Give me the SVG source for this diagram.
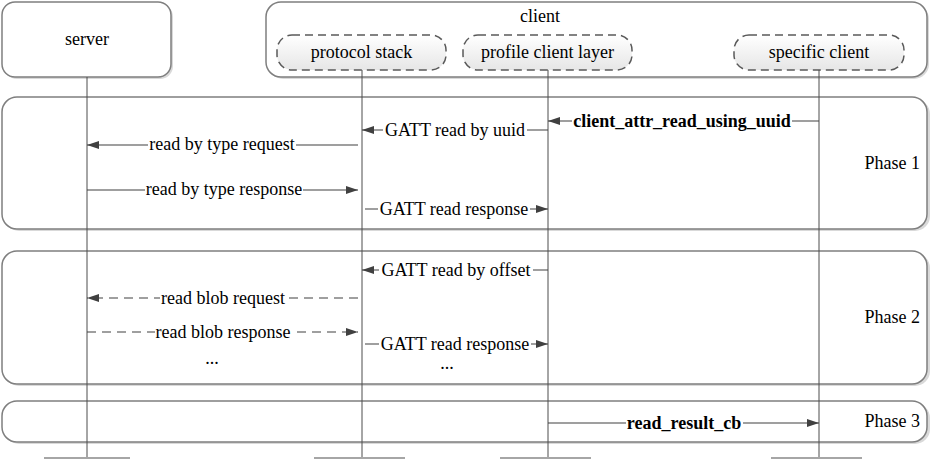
<svg xmlns="http://www.w3.org/2000/svg" width="934" height="459" viewBox="0 0 934 459">
<style>
text{font-family:"Liberation Serif","Times New Roman",serif;font-size:18px;fill:#000}
.c{text-anchor:middle}
.r{text-anchor:end}
.b{font-weight:bold}
.bg{fill:#fff}
.box{fill:#fff;stroke:#7f7f7f;stroke-width:1.5}
.sh{fill:#d9d9d9}
.dbox{fill:url(#g);stroke:#595959;stroke-width:1.5;stroke-dasharray:8 5}
.life{stroke:#4d4d4d;stroke-width:1;fill:none}
.msg{stroke:#404040;stroke-width:1.2;fill:none;marker-end:url(#ah)}
.dash{stroke-dasharray:9 6}
.bar{fill:#a6a6a6}
</style>
<defs>
<linearGradient id="g" x1="0" y1="0" x2="0" y2="1">
<stop offset="0" stop-color="#ffffff"/>
<stop offset="1" stop-color="#e6e6e6"/>
</linearGradient>
<marker id="ah" markerWidth="12" markerHeight="8" refX="12" refY="4" orient="auto" markerUnits="userSpaceOnUse">
<path d="M0,0 L12,4 L0,8 Z" fill="#404040"/>
</marker>
</defs>

<g id="phases">
<g id="phase1">
<rect class="sh" x="4" y="99" width="926" height="132" rx="15"/>
<rect class="box" x="2" y="97" width="925" height="132" rx="15"/>
<text class="r" x="920" y="169">Phase 1</text>
</g>
<g id="phase2">
<rect class="sh" x="4" y="253" width="926" height="133" rx="15"/>
<rect class="box" x="2" y="251" width="925" height="133" rx="15"/>
<text class="r" x="920" y="323">Phase 2</text>
</g>
<g id="phase3">
<rect class="sh" x="4" y="403" width="926" height="41" rx="15"/>
<rect class="box" x="2" y="401" width="925" height="41" rx="15"/>
<text class="r" x="920" y="427">Phase 3</text>
</g>
</g>

<g id="server">
<rect class="sh" x="4" y="4" width="169" height="75" rx="13"/>
<rect class="box" x="2" y="2" width="169" height="75" rx="13"/>
<text class="c" x="87" y="45">server</text>
</g>

<g id="client">
<rect class="sh" x="268" y="4" width="661" height="75" rx="15"/>
<rect class="box" x="266" y="2" width="661" height="75" rx="15"/>
<text class="c" x="540" y="22">client</text>
<g id="protocol-stack">
<rect class="dbox" x="277" y="35" width="169" height="35" rx="15"/>
<text class="c" x="361.5" y="58">protocol stack</text>
</g>
<g id="profile-client-layer">
<rect class="dbox" x="463" y="35" width="169" height="35" rx="15"/>
<text class="c" x="547.5" y="58">profile client layer</text>
</g>
<g id="specific-client">
<rect class="dbox" x="734" y="35" width="170" height="35" rx="15"/>
<text class="c" x="819" y="58">specific client</text>
</g>
</g>

<g id="lifelines">
<line class="life" x1="87" y1="77" x2="87" y2="459"/>
<line class="life" x1="362" y1="70" x2="362" y2="459"/>
<line class="life" x1="548" y1="70" x2="548" y2="459"/>
<line class="life" x1="819" y1="70" x2="819" y2="459"/>
<rect class="bar" x="44" y="457" width="86" height="3"/>
<rect class="bar" x="314" y="457" width="91" height="3"/>
<rect class="bar" x="500" y="457" width="91" height="3"/>
<rect class="bar" x="771" y="457" width="91" height="3"/>
</g>

<g id="connectors">
<line class="msg" x1="819" y1="121" x2="548" y2="121"/>
<rect class="bg" x="572" y="113" width="220" height="16"/>
<text class="c b" x="682" y="127">client_attr_read_using_uuid</text>
<line class="msg" x1="548" y1="130" x2="362" y2="130"/>
<rect class="bg" x="383" y="122" width="144" height="16"/>
<text class="c" x="455" y="136">GATT read by uuid</text>
<line class="msg" x1="358" y1="145" x2="87" y2="145"/>
<rect class="bg" x="148" y="137" width="148" height="16"/>
<text class="c" x="222" y="150">read by type request</text>
<line class="msg" x1="87" y1="190" x2="358" y2="190"/>
<rect class="bg" x="145" y="182" width="158" height="16"/>
<text class="c" x="224" y="195">read by type response</text>
<line class="msg" x1="365" y1="209" x2="548" y2="209"/>
<rect class="bg" x="378" y="201" width="152" height="16"/>
<text class="c" x="454" y="215">GATT read response</text>

<line class="msg" x1="548" y1="270" x2="362" y2="270"/>
<rect class="bg" x="379" y="262" width="154" height="16"/>
<text class="c" x="456" y="276">GATT read by offset</text>
<line class="msg dash" x1="358" y1="298" x2="87" y2="298"/>
<rect class="bg" x="160" y="290" width="126" height="16"/>
<text class="c" x="223" y="304">read blob request</text>
<line class="msg dash" x1="87" y1="332" x2="358" y2="332"/>
<rect class="bg" x="155" y="324" width="137" height="16"/>
<text class="c" x="223" y="338">read blob response</text>
<line class="msg" x1="365" y1="344" x2="548" y2="344"/>
<rect class="bg" x="379" y="336" width="152" height="16"/>
<text class="c" x="455" y="350">GATT read response</text>
<text class="c" x="212" y="364">...</text>
<text class="c" x="447" y="369">...</text>

<line class="msg" x1="548" y1="423" x2="819" y2="423"/>
<rect class="bg" x="626" y="415" width="117" height="16"/>
<text class="c b" x="684" y="429">read_result_cb</text>
</g>
</svg>
